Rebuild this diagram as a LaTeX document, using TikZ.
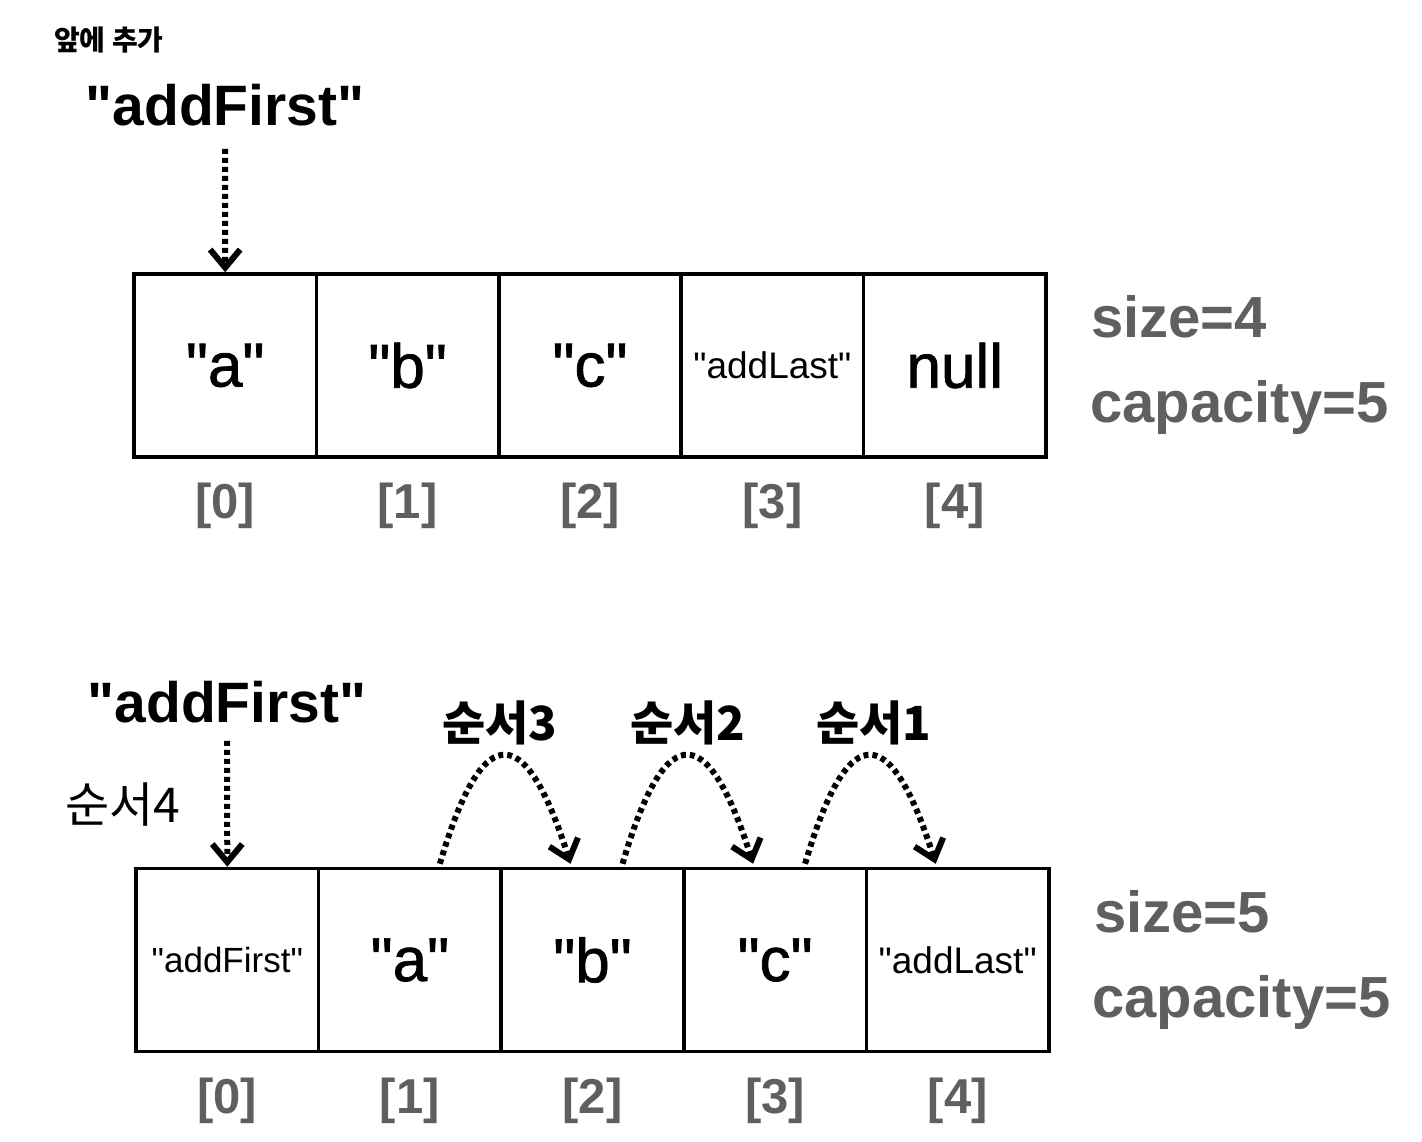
\documentclass[tikz,border=0pt]{standalone}
\usepackage{fontspec}
\newfontfamily\lib{Liberation Sans}
\newfontfamily\libmed{Liberation Sans}[FakeBold=1.2]
\newfontfamily\kr{Noto Sans CJK KR}
\usetikzlibrary{arrows.meta,calc}
\definecolor{idxgray}{RGB}{95,95,95}
\tikzset{
 cell/.style={draw, line width=3.5pt, minimum width=182.4pt, minimum height=183pt, inner sep=0pt,
   font=\fontsize{62}{62}\selectfont\libmed},
 smallval/.style={font=\fontsize{37}{37}\selectfont\lib},
 idx/.style={anchor=base, inner sep=0pt, text=idxgray, font=\fontsize{49}{49}\selectfont\lib\bfseries},
 stat/.style={anchor=base west, inner sep=0pt, text=idxgray, font=\fontsize{58}{58}\selectfont\lib\bfseries},
 title/.style={anchor=base, inner sep=0pt, font=\fontsize{57}{57}\selectfont\lib\bfseries},
 order/.style={anchor=base, inner sep=0pt, font=\fontsize{47}{47}\selectfont\kr\bfseries},
 orderlight/.style={anchor=base, inner sep=0pt, font=\fontsize{48}{48}\selectfont\kr},
 heading/.style={anchor=base west, inner sep=0pt, font=\fontsize{28}{28}\selectfont\kr\bfseries},
 dotarrow/.style={line width=6pt, dash pattern=on 5pt off 4pt,
   -{Straight Barb[length=18pt,width=30pt,line width=6pt]}},
}
\begin{document}
\lib
\begin{tikzpicture}[x=1pt,y=-1pt]
\path[fill=white, use as bounding box] (0,0) rectangle (1422,1142);

\node[heading] (head) at (54,51) {앞에 추가};

% ---- top array ----
\node[title] (t1) at (225,126) {"addFirst"};
\node[cell] (a0) at (225.2,365.5) {"a"};
\node[cell] (a1) at (407.6,365.5) {"b"};
\node[cell] (a2) at (590.0,365.5) {"c"};
\node[cell, smallval] (a3) at (772.4,365.5) {"addLast"};
\node[cell] (a4) at (954.8,365.5) {null};
\foreach \i in {0,...,4} {
  \node[idx] (ia\i) at ($(a\i.south)+(0,60)$) {[\i]};
}
\node[stat] (sz1) at (1091,337) {size=4};
\node[stat] (cp1) at (1090,422) {capacity=5};
\draw[dotarrow, shorten <=22pt] (t1.south) -- (a0.north);

% ---- bottom array ----
\node[title] (t2) at (227,722) {"addFirst"};
\node[orderlight] (o4) at (123,822) {순서4};
\node[order] (o3) at (500,740) {순서3};
\node[order] (o2) at (688,740) {순서2};
\node[order] (o1) at (874,740) {순서1};
\node[cell, smallval, font=\fontsize{35}{35}\selectfont\lib] (b0) at (227.3,960) {"addFirst"};
\node[cell] (b1) at (409.9,960) {"a"};
\node[cell] (b2) at (592.5,960) {"b"};
\node[cell] (b3) at (775.1,960) {"c"};
\node[cell, smallval] (b4) at (957.7,960) {"addLast"};
\foreach \i in {0,...,4} {
  \node[idx] (ib\i) at ($(b\i.south)+(0,60)$) {[\i]};
}
\node[stat] (sz2) at (1094,932) {size=5};
\node[stat] (cp2) at (1092,1017) {capacity=5};
\draw[dotarrow, shorten <=18pt] (t2.south) -- (b0.north);

\foreach \k/\n in {1/2,2/3,3/4} {
  \coordinate (s\k) at ($(b\k.north)+(30,-3)$);
  \coordinate (e\k) at ($(b\n.north)+(-22,-3)$);
  \draw[dotarrow] (s\k) .. controls ($(s\k)+(40,-136)$) and ($(e\k)+(-48,-152)$) .. (e\k);
}
\end{tikzpicture}
\end{document}
